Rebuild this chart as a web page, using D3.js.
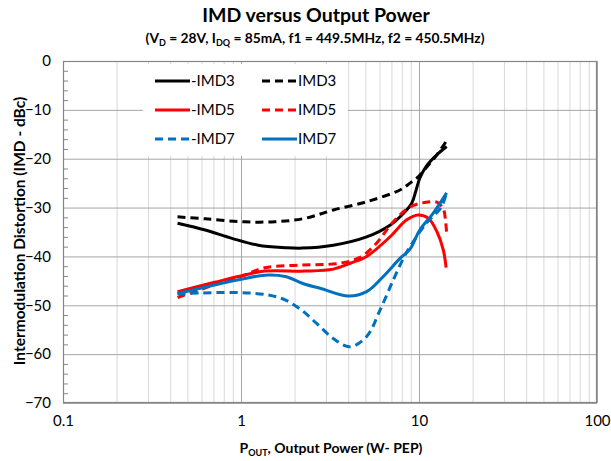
<!DOCTYPE html>
<html><head><meta charset="utf-8">
<script src="https://cdn.jsdelivr.net/npm/d3@7"></script>
<style>body{margin:0;background:#fff}svg{display:block}text{font-family:Lato,"Liberation Sans",sans-serif}</style>
</head><body><svg id="c" width="611" height="461"></svg>
<script>
const xTicks = [0.1, 1, 10, 100];
const xTickLabels = ["0.1", "1", "10", "100"];
const yTicks = [0, -10, -20, -30, -40, -50, -60, -70];

const negIMD3 = [[0.44,-33.2],[0.63,-34.6],[0.89,-36.3],[1.25,-37.7],[1.77,-38.2],[2.2,-38.3],[3.3,-37.7],[5.08,-36.0],[6.87,-33.6],[8.17,-31.2],[9.1,-29.1],[9.6,-26.6],[10.1,-24.0],[11.0,-21.5],[12.6,-19.2],[14.3,-17.5]];
const IMD3 = [[0.44,-31.9],[0.63,-32.3],[1.0,-32.9],[1.55,-32.9],[2.29,-32.2],[3.3,-30.5],[5.08,-28.8],[7.82,-26.4],[8.9,-25.0],[9.9,-23.7],[11.0,-21.8],[12.6,-19.2],[14.3,-16.3]];
const negIMD5 = [[0.44,-47.2],[0.71,-45.3],[1.05,-43.8],[1.36,-43.0],[2.29,-43.0],[3.3,-42.6],[4.1,-41.4],[5.08,-40.0],[6.87,-36.0],[8.53,-32.5],[9.9,-31.5],[11.3,-32.2],[12.6,-34.9],[13.7,-38.7],[14.2,-42.3]];
const IMD5 = [[0.44,-48.4],[0.71,-45.8],[1.05,-43.8],[1.36,-42.3],[2.09,-41.8],[3.6,-41.4],[4.66,-40.2],[5.7,-37.5],[7.17,-32.9],[8.9,-29.9],[10.6,-29.0],[12.6,-28.9],[13.7,-30.3],[14.1,-32.8],[14.3,-35.3]];
const negIMD7 = [[0.44,-47.7],[0.58,-47.5],[1.0,-47.4],[1.42,-47.9],[1.77,-48.9],[2.19,-51.0],[2.66,-53.7],[3.3,-56.8],[4.1,-58.5],[5.08,-56.4],[6.04,-51.0],[7.17,-44.8],[8.17,-40.4],[8.9,-38.0],[11.0,-33.2],[13.4,-29.8],[14.3,-26.7]];
const IMD7 = [[0.44,-47.6],[1.05,-44.5],[1.42,-43.8],[1.77,-44.1],[2.29,-45.7],[2.78,-46.5],[4.01,-48.1],[5.08,-47.2],[6.3,-44.1],[7.82,-40.4],[8.9,-38.5],[10.1,-34.6],[12.0,-31.2],[14.3,-27.0]];

const seriesNames = ["-IMD3","IMD3","-IMD5","IMD5","-IMD7","IMD7"];
const seriesData = [negIMD3, IMD3, negIMD5, IMD5, negIMD7, IMD7];
const seriesColors = ["#000000","#000000","#FF0000","#FF0000","#0070C0","#0070C0"];
const seriesDashed = [false,true,false,true,true,false];

const svg = d3.select("#c");
const L=63, R=597, T=61, B=403;
const x = d3.scaleLog().domain([0.1,100]).range([L,R]);
const y = d3.scaleLinear().domain([-70,0]).range([B,T]);

// minor vertical grid
const minor = [];
[0.1,1,10].forEach(d=>{for(let k=2;k<=9;k++) minor.push(d*k);});
svg.append("g").attr("transform",`translate(0,${B})`)
  .call(d3.axisBottom(x).tickValues(minor).tickSize(-(B-T)).tickFormat(""))
  .call(g=>g.select(".domain").remove())
  .call(g=>g.selectAll("line").attr("stroke","#d9d9d9").attr("stroke-width",1));
// major vertical grid
svg.append("g").attr("transform",`translate(0,${B})`)
  .call(d3.axisBottom(x).tickValues(xTicks).tickSize(-(B-T)).tickFormat(""))
  .call(g=>g.select(".domain").remove())
  .call(g=>g.selectAll("line").attr("stroke","#a6a6a6").attr("stroke-width",1));
// horizontal grid
svg.append("g").attr("transform",`translate(${L},0)`)
  .call(d3.axisLeft(y).tickValues(yTicks).tickSize(-(R-L)).tickFormat(""))
  .call(g=>g.select(".domain").remove())
  .call(g=>g.selectAll("line").attr("stroke","#a6a6a6").attr("stroke-width",1));
// minor y ticks
svg.append("g").attr("transform",`translate(${L},0)`)
  .call(d3.axisRight(y).tickValues(d3.range(-68,0,2).filter(v=>v%10!==0)).tickSize(5).tickFormat(""))
  .call(g=>g.select(".domain").remove())
  .call(g=>g.selectAll("line").attr("stroke","#888"));

// border
svg.append("rect").attr("x",L+0.5).attr("y",T+0.5).attr("width",R-L-1).attr("height",B-T-1)
  .attr("fill","none").attr("stroke","#868686").attr("stroke-width",1.2);

// axis labels
svg.append("g").attr("transform",`translate(${L},0)`)
  .call(d3.axisLeft(y).tickValues(yTicks).tickSize(0).tickPadding(12).tickFormat(d3.format("d")))
  .call(g=>g.select(".domain").remove())
  .call(g=>g.selectAll("text").attr("font-size",15).attr("fill","#000").attr("font-family","Lato,sans-serif"));
svg.append("g").attr("transform",`translate(0,${B})`)
  .call(d3.axisBottom(x).tickValues(xTicks).tickSize(0).tickPadding(12).tickFormat((d,i)=>xTickLabels[i]))
  .call(g=>g.select(".domain").remove())
  .call(g=>g.selectAll("text").attr("font-size",15).attr("fill","#000").attr("font-family","Lato,sans-serif"));

// lines
const line = d3.line().x(d=>x(d[0])).y(d=>y(d[1])).curve(d3.curveCatmullRom.alpha(0.5));
seriesData.forEach((s,i)=>{
  svg.append("path").datum(s).attr("d",line).attr("fill","none")
    .attr("stroke",seriesColors[i]).attr("stroke-width",3)
    .attr("stroke-dasharray",seriesDashed[i]?"8,5":null);
});

// legend
svg.append("rect").attr("x",143).attr("y",64).attr("width",205).attr("height",92).attr("fill","#fff");
const lpos = [[155,81],[262,81],[155,110],[262,110],[155,139],[262,139]];
seriesNames.forEach((n,i)=>{
  const [lx,ly]=lpos[i];
  svg.append("line").attr("x1",lx).attr("x2",lx+35).attr("y1",ly).attr("y2",ly)
    .attr("stroke",seriesColors[i]).attr("stroke-width",3)
    .attr("stroke-dasharray",seriesDashed[i]?"8,5":null);
  svg.append("text").attr("x",lx+36).attr("y",ly+5).attr("font-size",15).text(n);
});

// titles
svg.append("text").attr("x",316).attr("y",22).attr("text-anchor","middle")
  .attr("font-size",19.5).attr("font-weight","bold").text("IMD versus Output Power");
const st = svg.append("text").attr("x",315).attr("y",43).attr("text-anchor","middle")
  .attr("font-size",13.8).attr("font-weight","bold");
st.append("tspan").text("(V");
st.append("tspan").attr("font-size",9).attr("dy",3).text("D");
st.append("tspan").attr("dy",-3).text(" = 28V, I");
st.append("tspan").attr("font-size",9).attr("dy",3).text("DQ");
st.append("tspan").attr("dy",-3).text(" = 85mA, f1 = 449.5MHz, f2 = 450.5MHz)");

const xt = svg.append("text").attr("x",331).attr("y",453).attr("text-anchor","middle")
  .attr("font-size",14).attr("font-weight","bold");
xt.append("tspan").text("P");
xt.append("tspan").attr("font-size",9).attr("dy",3).text("OUT");
xt.append("tspan").attr("dy",-3).text(", Output Power (W- PEP)");

svg.append("text").attr("transform","translate(25,231) rotate(-90)").attr("text-anchor","middle")
  .attr("font-size",15.5).attr("font-weight","bold").text("Intermodulation Distortion (IMD - dBc)");
</script></body></html>
